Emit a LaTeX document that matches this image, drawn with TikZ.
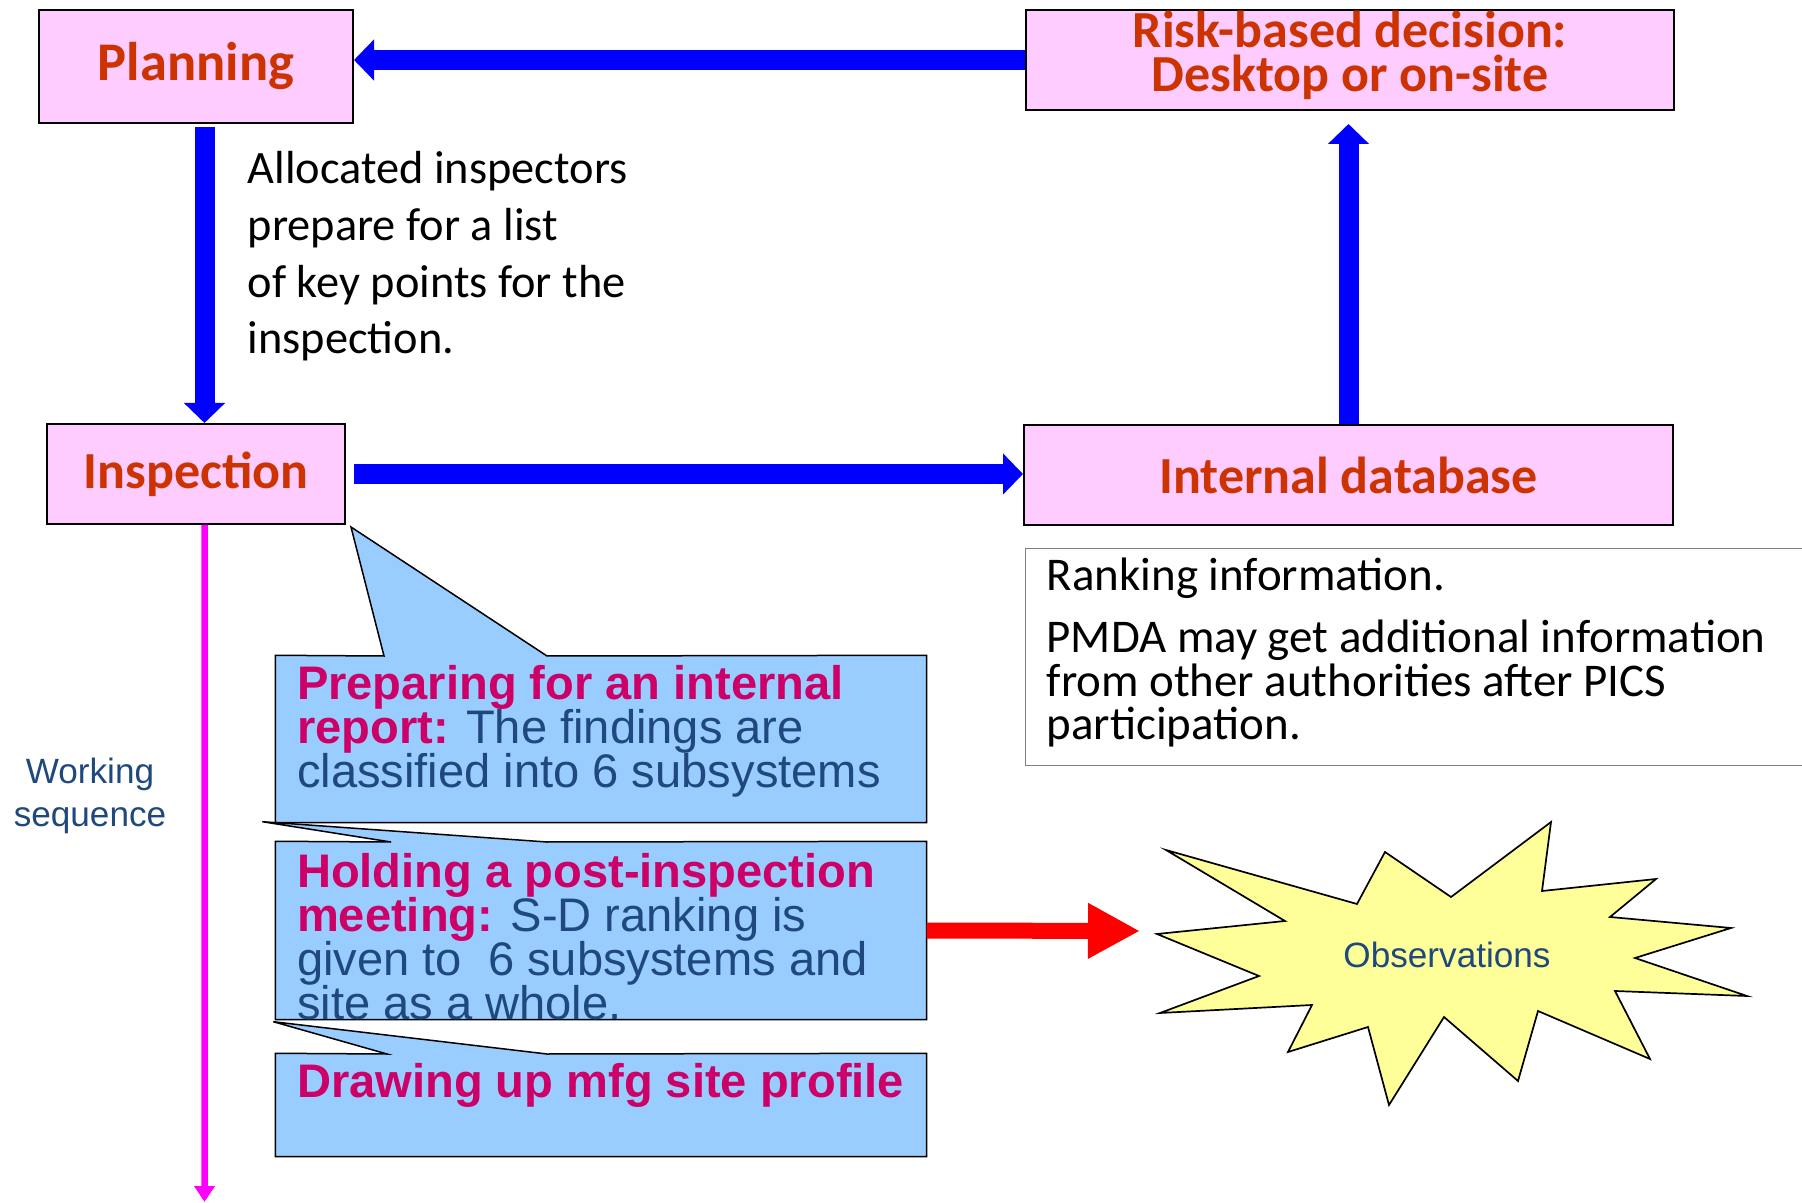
\documentclass[tikz,border=0pt]{standalone}
\usepackage{fontspec}
\setmainfont{Carlito}
\newfontfamily\arialfont{Liberation Sans}
\usepackage{xcolor}
\usetikzlibrary{positioning}
\usetikzlibrary{arrows.meta}

\definecolor{titlered}{RGB}{204,51,0}
\definecolor{boxpink}{RGB}{255,204,255}
\definecolor{callblue}{RGB}{153,204,255}
\definecolor{callmag}{RGB}{204,0,102}
\definecolor{textblue}{RGB}{31,73,125}
\definecolor{starfill}{RGB}{255,255,153}
\definecolor{seqpink}{RGB}{255,0,255}

\begin{document}
\begin{tikzpicture}[
    x=0.1mm, y=-0.1mm,% one unit = one pixel of the slide
       box/.style = {draw, line width=0.2mm, fill=boxpink, text=titlered, align=center, inner ysep=0pt,
                     font=\fontsize{14.8}{12.5}\selectfont\bfseries},% process boxes
      flow/.style = {draw=blue, line width=2mm, -{Triangle[length=2mm,width=4mm]}},
      note/.style = {anchor=base west, align=left, inner sep=0pt,
                     font=\fontsize{13.2}{16.2}\selectfont},
   rankbox/.style = {draw=gray, line width=0.1mm, minimum width=78mm, minimum height=21.7mm},
  ranktext/.style = {anchor=base west, align=left, inner sep=0pt,
                     font=\fontsize{13.35}{12.5}\selectfont,
                     execute at begin node={\setlength{\lineskiplimit}{-5pt}}},
   callbox/.style = {inner sep=0pt},
   callout/.style = {draw, line width=0.15mm, fill=callblue, line join=miter},
  calltext/.style = {anchor=base west, align=left, inner sep=0pt, text=textblue,
                     font=\arialfont\fontsize{13.4}{12.5}\selectfont,
                     execute at begin node={\setlength{\lineskiplimit}{-5pt}}},
   seqtext/.style = {anchor=base, align=center, inner sep=0pt, text=textblue,
                     font=\arialfont\fontsize{10}{12.2}\selectfont}
    ]
    \useasboundingbox (0,0) rectangle (1802,1203);
    % process boxes
    \node (plan) [box, minimum width=31.4mm, minimum height=11.3mm, font=\fontsize{15.5}{12.5}\selectfont\bfseries] at (196,66.5) {Planning};
    \node (risk) [box, minimum width=64.8mm, minimum height=10mm, text depth=5pt] at (1350,60) {Risk-based decision:\\Desktop or on-site};
    \node (insp) [box, minimum width=29.8mm, minimum height=10mm] at (196,474) {Inspection};
    \node (db) [box, minimum width=64.9mm, minimum height=10mm] at (1348.5,475) {Internal database};
    \draw[flow] (risk.west) -- (plan.east |- risk.west);
    \draw[flow] ([xshift=0.85mm,yshift=-0.3mm]plan.south) -- ([xshift=0.85mm]insp.north);
    \draw[flow] ([xshift=0.8mm]insp.east) -- (db.west |- insp.east);
    \draw[flow] (db.north) -- ([yshift=-1.3mm]risk.south -| db.north);
    \node (alloc) [note] at (247,354) {Allocated inspectors\\prepare for a list\\of key points for the\\inspection.};
    % ranking information
    \node (rank) [rankbox, below right=2.2mm and 0.2mm of db.south west] {};
    \node (ranktxt) [ranktext] at ([shift={(21,192)}]rank.north west) {Ranking information.\\[5.1pt]PMDA may get additional information\\from other authorities after PICS\\participation.};
    % working sequence
    \coordinate (seqend) at (204.5,1202);
    \draw[seqpink, line width=0.65mm, -{Triangle[length=1.6mm,width=2mm]}] ([xshift=0.85mm]insp.south) -- (seqend);
    \node (seq) [seqtext] at (90,826) {Working\\sequence};
    % callouts
    \node (cb1) [callbox, minimum width=65mm, minimum height=16.6mm] at (601,739) {};
    \node (cb2) [callbox, minimum width=65mm, minimum height=17.7mm] at (601,930.5) {};
    \node (cb3) [callbox, minimum width=65mm, minimum height=10.2mm] at (601,1105) {};
    \draw[callout] (cb1.north west) -- (384,656) -- ([shift={(5,2)}]insp.south east) -- (547,656)
        -- (cb1.north east) -- (cb1.south east) -- (cb1.south west) -- cycle;
    \draw[callout] (cb2.north west) -- (391,842) -- ([shift={(-13,-1)}]cb1.south west) -- (547,842)
        -- (cb2.north east) -- (cb2.south east) -- (cb2.south west) -- cycle;
    \draw[callout] (cb3.north west) -- (387,1054) -- ([shift={(-2,2)}]cb2.south west) -- (547,1054)
        -- (cb3.north east) -- (cb3.south east) -- (cb3.south west) -- cycle;
    \node (t1) [calltext] at ([shift={(21,132)}]cb1.north west) {\textcolor{callmag}{\bfseries Preparing for an internal}\\\textcolor{callmag}{\bfseries report:} The findings are\\classified into 6 subsystems};
    \node (t2) [calltext] at ([shift={(21,178)}]cb2.north west) {\textcolor{callmag}{\bfseries Holding a post-inspection}\\\textcolor{callmag}{\bfseries meeting:} S-D ranking is\\given to\ \ 6 subsystems and\\site as a whole.};
    \node (t3) [calltext] at ([shift={(21,44)}]cb3.north west) {\textcolor{callmag}{\bfseries Drawing up mfg site profile}};
    % observations
    \coordinate (obstip) at (1140,931);
    \draw[red, line width=1.6mm, -{Triangle[length=5.2mm,width=5.2mm]}] (cb2.east) -- (obstip);
    \filldraw[fill=starfill, draw=black, line width=0.17mm, line join=miter]
        (1166,850) -- (1357,904) -- (1385,852) -- (1451,897) -- (1551,822) -- (1542,891)
        -- (1656,879) -- (1610,917) -- (1731,928) -- (1635,958) -- (1747,996) -- (1615,991)
        -- (1650,1059) -- (1538,1011) -- (1518,1081) -- (1444,1017) -- (1389,1105) -- (1368,1027)
        -- (1288,1052) -- (1312,1005) -- (1160,1013) -- (1259,976) -- (1157,934) -- (1285,921) -- cycle;
    \node (obs) [text=textblue, font=\arialfont\fontsize{10}{12}\selectfont] at (1447,955) {Observations};
\end{tikzpicture}
\end{document}
